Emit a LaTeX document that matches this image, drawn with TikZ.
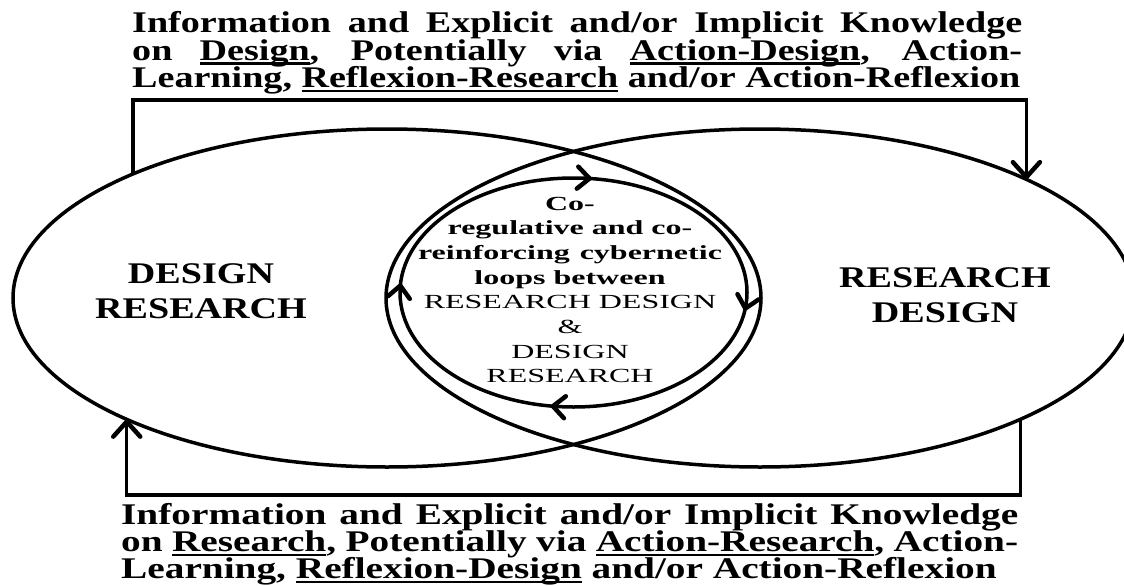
\documentclass[tikz,border=0pt]{standalone}
\usepackage{fontspec}
\setmainfont{Liberation Serif}
\newfontfamily\outerfont{Liberation Serif}[FakeStretch=1.27]
\newfontfamily\botfont{Liberation Serif}[FakeStretch=1.31]
\newfontfamily\labfont{Liberation Serif}[FakeStretch=1.27]
\newfontfamily\cenfont{Liberation Serif}[FakeStretch=1.6]
\usetikzlibrary{shapes.geometric,arrows.meta,decorations.markings}
\newcommand\ulw[1]{\setbox0\hbox{#1}\rlap{\rule[-4.5pt]{\wd0}{2.5pt}}\box0\relax}
\newcommand\cstack[2]{\vtop{\baselineskip=#1\lineskiplimit=-100pt\lineskip=0pt\halign{\hfil##\hfil\cr#2\crcr}}}
\newcommand\lstack[2]{\vtop{\baselineskip=#1\lineskiplimit=-100pt\lineskip=0pt #2}}
\begin{document}
\begin{tikzpicture}[x=1pt,y=-1pt,
  bigell/.style={ellipse,draw,line width=3.5pt,minimum width=748pt,minimum height=338pt,inner sep=0pt,outer sep=0pt},
  bigtip/.tip={Straight Barb[length=15pt,width=27pt,line width=4.5pt 0,line cap=round,line join=round]},
  smalltip/.tip={Straight Barb[length=12pt,width=22pt,line width=4.5pt 0,line cap=round,line join=round]},
  conn/.style={line width=3.5pt,-bigtip},
  loopline/.style={line width=3.5pt,postaction={decorate},decoration={markings,
     mark=at position 0.02 with {\arrow{smalltip}},
     mark=at position 0.275 with {\arrow{smalltip}},
     mark=at position 0.51 with {\arrow{smalltip}},
     mark=at position 0.77 with {\arrow{smalltip}}}},
  outtext/.style={anchor=base west,inner sep=0pt,font=\outerfont\bfseries\fontsize{30}{30}\selectfont},
  lab/.style={anchor=base,inner sep=0pt,font=\labfont\bfseries\fontsize{30}{30}\selectfont},
]
\fill[white] (0,0) rectangle (1124,586);
\useasboundingbox (0,0) rectangle (1124,586);

% top text
\node[outtext] (toptext) at (132,33) {\lstack{27.5pt}{%
  \hbox{\makebox[890pt][s]{Information and Explicit and/or Implicit Knowledge}}
  \hbox{\makebox[890pt][s]{on \ulw{Design}, Potentially via \ulw{Action-Design}, Action-}}
  \hbox{Learning, \ulw{Reflexion-Research} and/or Action-Reflexion}}};

% bottom text
\node[outtext,font=\botfont\bfseries\fontsize{30}{30}\selectfont] (bottext) at (121,524.5) {\lstack{27pt}{%
  \hbox{\makebox[897pt][s]{Information and Explicit and/or Implicit Knowledge}}
  \hbox{\makebox[897pt][s]{on \ulw{Research}, Potentially via \ulw{Action-Research}, Action-}}
  \hbox{Learning, \ulw{Reflexion-Design} and/or Action-Reflexion}}};

% ellipses
\node[bigell] (L) at (387,298) {};
\node[bigell] (R) at (760,298) {};

% labels
\node[lab] (llab) at (201,283) {\lstack{35pt}{\hbox to 0pt{\hss DESIGN\hss}\hbox to 0pt{\hss RESEARCH\hss}}};
\node[lab] (rlab) at (945,287) {\lstack{35pt}{\hbox to 0pt{\hss RESEARCH\hss}\hbox to 0pt{\hss DESIGN\hss}}};

% inner loop
\draw[loopline] (573.5,292.5) ellipse [x radius=173.5, y radius=114.5];

\node[anchor=base,inner sep=0pt,font=\cenfont\fontsize{20}{24}\selectfont] (ctext) at (570,210)
  {\cstack{24.7pt}{\bfseries Co-\cr \bfseries regulative and co-\cr \bfseries reinforcing\enspace cybernetic\cr \bfseries loops between\cr RESEARCH DESIGN\cr \&\cr DESIGN\cr RESEARCH}};

% outer feedback connectors
\coordinate (tm) at (575,100);
\coordinate (bm) at (575,495);
\draw[conn] (L.154.86) |- (tm) -| (R.24.5);
\draw[conn] (R.335.5) |- (bm) -| (L.205.14);
\end{tikzpicture}
\end{document}
